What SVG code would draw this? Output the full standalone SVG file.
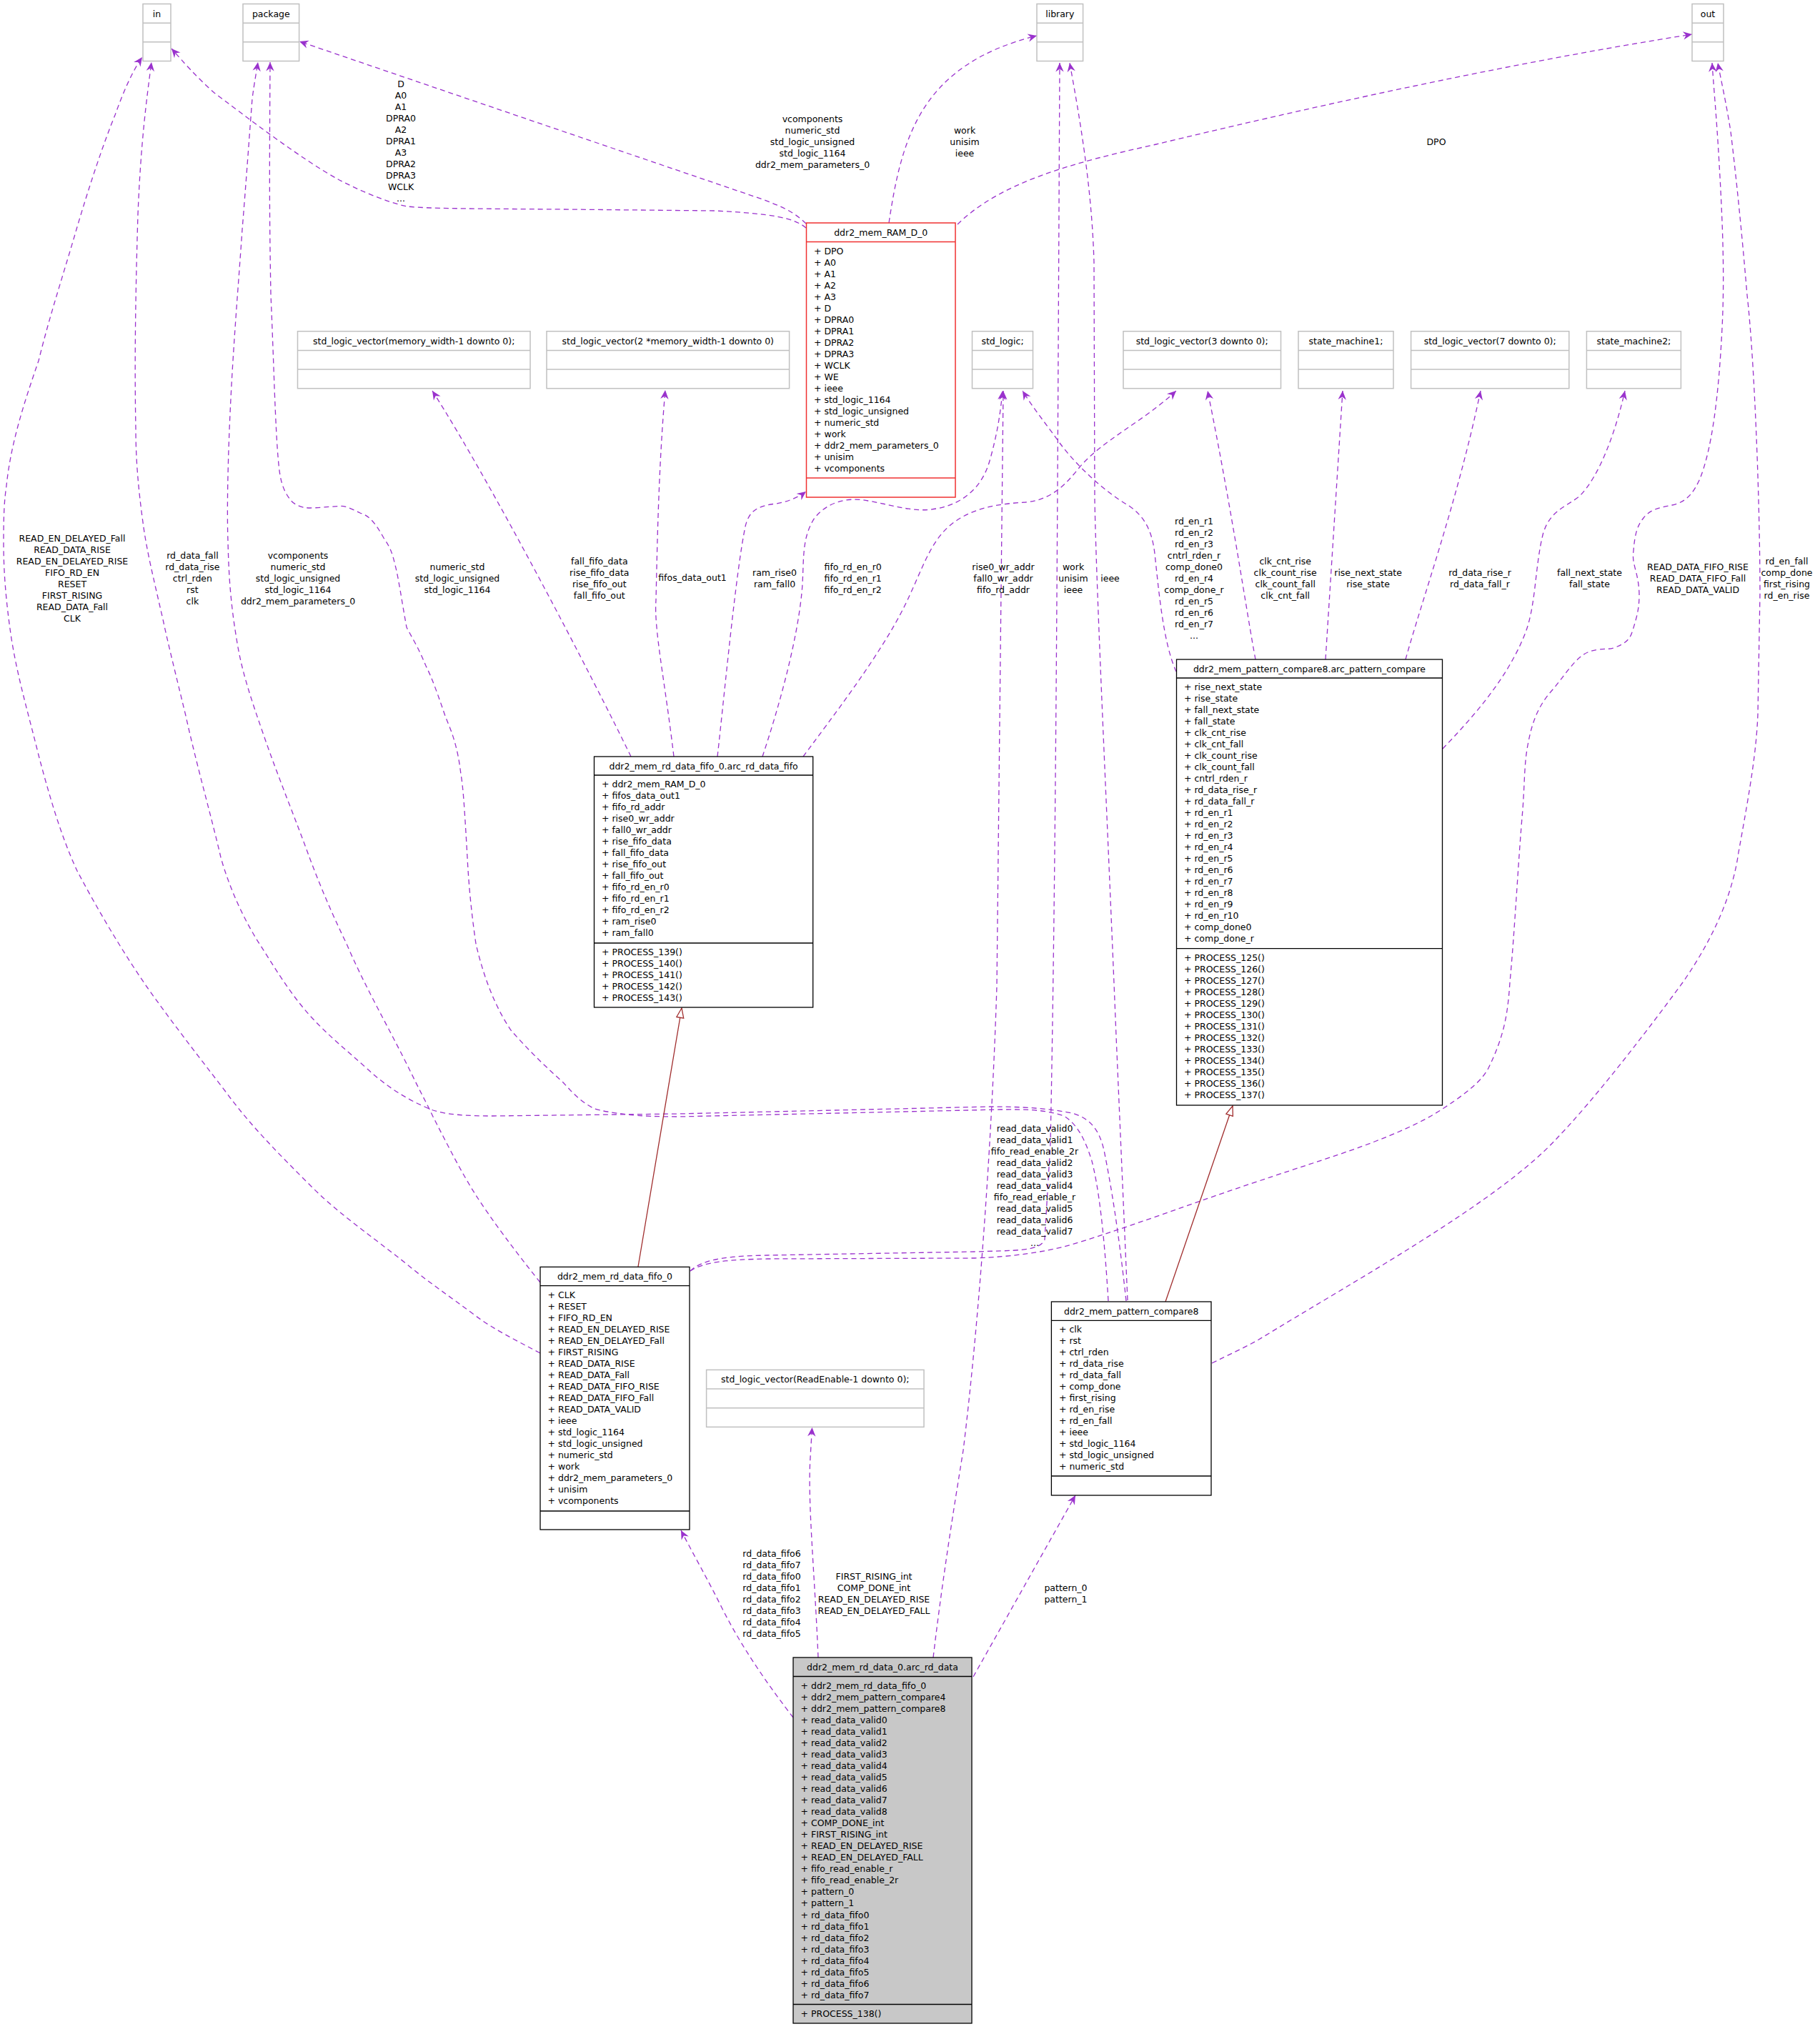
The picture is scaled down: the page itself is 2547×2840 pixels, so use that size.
<svg xmlns="http://www.w3.org/2000/svg" width="2547" height="2840" viewBox="0 0 2547 2840">
<style>
text{font-family:"DejaVu Sans","Liberation Sans",sans-serif;font-size:12.5px;fill:#000}
.c{text-anchor:middle}
.bx{fill:#fff;stroke:#000;stroke-width:1.3}
.gx{fill:#fff;stroke:#c0c0c0;stroke-width:1.5}
.gl{stroke:#c0c0c0;stroke-width:1.5}
.bl{stroke:#000;stroke-width:1.3}
.rx{fill:#fff;stroke:#f03030;stroke-width:1.5}
.rl{stroke:#f03030;stroke-width:1.3}
.e{fill:none;stroke:#9a32cd;stroke-width:1.3;stroke-dasharray:7,5;marker-end:url(#v)}
.i{fill:none;stroke:#a02c2c;stroke-width:1.3;marker-end:url(#t)}
</style>
<defs>
<marker id="v" markerUnits="userSpaceOnUse" markerWidth="14" markerHeight="13" viewBox="0 0 14 13" refX="13" refY="6.5" orient="auto"><path d="M0.5,0.8 L13,6.5 L0.5,12.2 L4.5,6.5 Z" fill="#9a32cd" stroke="none"/></marker>
<marker id="t" markerUnits="userSpaceOnUse" markerWidth="16" markerHeight="13" viewBox="0 0 16 13" refX="15" refY="6.5" orient="auto"><path d="M1.5,1.5 L15,6.5 L1.5,11.5 Z" fill="#fff" stroke="#a02c2c" stroke-width="1.3"/></marker>
</defs>
<rect width="2547" height="2840" fill="#fff"/>

<g id="edges">
<path class="e" d="M1128,319 C1112,305 1080,299 1000,295 L790,293 C650,292 600,292 570,289 C540,283 500,265 475,252 C420,222 340,160 300,130 C275,108 255,85 240,68"/>
<path class="e" d="M1128,313 C1110,295 1090,288 1070,280 L419,58"/>
<path class="e" d="M1244,312 C1262,190 1290,90 1451,50"/>
<path class="e" d="M1340,314 C1400,255 1500,228 1618,202 C1800,158 2100,90 2368,48"/>
<path class="e" d="M1004,1059 C1015,960 1030,800 1043,737 C1048,715 1060,708 1086,705 C1100,703 1116,697 1128,688"/>
<path class="e" d="M1067,1059 C1090,990 1115,900 1122,830 C1126,790 1120,755 1140,725 C1160,700 1190,696 1215,701 C1250,707 1280,718 1310,712 C1350,705 1375,680 1385,645 C1395,610 1400,580 1403,547"/>
<path class="e" d="M1124,1059 C1160,1010 1230,920 1265,850 C1290,800 1300,760 1330,735 C1360,710 1400,705 1435,703 C1470,700 1490,680 1510,655 C1540,618 1600,590 1646,547"/>
<path class="e" d="M883,1059 C830,950 690,680 605,547"/>
<path class="e" d="M943,1059 C930,950 915,880 918,840 C920,750 922,650 931,546"/>
<path class="e" d="M1646,940 C1628,900 1622,830 1616,775 C1612,740 1600,722 1580,708 C1545,688 1505,650 1483,620 C1465,595 1445,570 1431,547"/>
<path class="e" d="M1757,923 C1745,860 1725,720 1690,547"/>
<path class="e" d="M1855,923 L1879,547"/>
<path class="e" d="M1967,923 C1990,840 2040,700 2072,547"/>
<path class="e" d="M2019,1048 C2060,1005 2110,950 2135,885 C2150,845 2148,790 2160,745 C2170,715 2190,710 2210,695 C2240,665 2262,600 2274,547"/>
<path class="e" d="M966,1779 C985,1766 1020,1763 1074,1762 L1364,1761 C1420,1759 1460,1752 1489,1745 C1560,1725 1680,1680 1750,1657 C1830,1630 1880,1615 1926,1597 C1970,1580 2000,1565 2022,1550 C2060,1525 2075,1510 2083,1495 C2105,1450 2110,1420 2113,1375 C2120,1300 2125,1200 2131,1133 C2134,1090 2133,1070 2138,1043 C2145,1005 2155,985 2174,964 C2190,945 2205,920 2222,913 C2240,906 2250,910 2258,907 C2272,902 2280,897 2284,885 C2292,860 2294,850 2294,831 C2293,800 2283,790 2286,771 C2288,745 2292,735 2300,725 C2310,712 2325,710 2340,707 C2360,703 2370,690 2379,670 C2395,630 2405,560 2410,459 C2414,380 2410,300 2406,230 C2402,160 2398,120 2396,88"/>
<path class="e" d="M966,1779 C985,1760 1030,1758 1074,1757 L1364,1752 C1420,1750 1455,1752 1462,1735 L1470,1600 C1478,1200 1480,700 1483,88"/>
<path class="e" d="M1696,1908 C1720,1896 1740,1887 1760,1876 C1900,1790 2100,1680 2180,1592 C2230,1540 2300,1450 2355,1375 C2400,1310 2425,1250 2433,1193 C2450,1100 2458,1050 2460,1000 L2463,831 C2463,700 2455,500 2445,413 C2438,330 2430,250 2422,184 C2415,140 2408,110 2404,88"/>
<path class="e" d="M1578,1820 L1562,1450 C1550,1150 1535,850 1532,700 L1531,367 C1528,260 1510,160 1497,88"/>
<path class="e" d="M1576,1821 C1565,1720 1555,1660 1545,1610 C1538,1580 1525,1565 1500,1558 C1460,1550 1420,1549 1385,1549 L950,1559 L690,1562 C650,1562 625,1560 606,1554 C570,1540 540,1520 515,1497 C485,1470 460,1450 436,1424 C405,1390 385,1355 363,1321 C340,1285 320,1240 309,1200 C295,1140 275,1070 260,1002 C245,940 235,900 228,867 C215,810 205,770 200,731 C193,680 190,640 190,600 C188,500 190,400 193,300 C197,200 205,140 212,87"/>
<path class="e" d="M1551,1821 C1545,1720 1537,1660 1528,1625 C1520,1600 1510,1575 1489,1562 C1460,1552 1430,1553 1400,1553 L950,1563 C920,1563 895,1562 878,1560 C855,1557 840,1555 830,1551 C810,1540 800,1528 788,1515 C760,1490 735,1465 715,1442 C690,1405 675,1360 666,1321 C660,1280 656,1240 654,1200 C650,1130 648,1100 645,1084 C640,1040 630,1020 623,1002 C612,970 605,950 596,932 C585,905 575,890 569,878 C562,840 558,810 553,791 C548,770 545,765 537,753 C527,735 518,722 504,718 C495,714 485,708 477,708.5 C460,709 445,711 434,711 C420,711 410,705 406,699 C395,685 392,670 390,650 C385,600 383,500 379,413 C377,300 377,250 378,87"/>
<path class="e" d="M756,1795 C720,1750 690,1710 666,1673 C645,1640 625,1600 606,1563 C595,1540 588,1528 576,1503 C545,1440 510,1380 485,1321 C465,1280 448,1240 433,1200 C415,1150 390,1090 369,1029 C352,980 338,940 331,894 C322,840 320,800 319,758 C317,700 320,600 326,505 C330,440 335,380 339,321 C344,260 349,190 353,138 C356,115 359,100 361,87"/>
<path class="e" d="M756,1894 C720,1875 690,1860 666,1842 C630,1815 600,1795 570,1770 C520,1730 475,1700 436,1661 C390,1615 350,1575 315,1527 C275,1475 240,1430 206,1382 C170,1330 135,1270 108,1219 C85,1170 68,1110 54,1057 C40,1000 25,950 16,894 C8,840 5,800 5,758 C5,720 6,700 9,680 C15,620 35,560 54,505 C70,440 90,380 107,321 C125,260 145,200 161,161 C172,130 185,100 199,80"/>
<path class="e" d="M1110,2404 C1080,2365 1040,2310 1010,2250 C990,2210 970,2175 953,2142"/>
<path class="e" d="M1145,2320 C1140,2200 1130,2100 1134,2040 L1136.5,1998"/>
<path class="e" d="M1362,2347 L1505,2093"/>
<path class="e" d="M1306,2320 C1320,2200 1340,2080 1348,2030 C1370,1850 1388,1600 1395,1380 L1404,547"/>
<path class="i" d="M893,1773 L954,1411"/>
<path class="i" d="M1631,1822 L1725,1548"/>
</g>

<g id="edge-labels">
<text class="c" x="561" y="122.4"><tspan x="561">D</tspan><tspan x="561" dy="16">A0</tspan><tspan x="561" dy="16">A1</tspan><tspan x="561" dy="16">DPRA0</tspan><tspan x="561" dy="16">A2</tspan><tspan x="561" dy="16">DPRA1</tspan><tspan x="561" dy="16">A3</tspan><tspan x="561" dy="16">DPRA2</tspan><tspan x="561" dy="16">DPRA3</tspan><tspan x="561" dy="16">WCLK</tspan><tspan x="561" dy="16">...</tspan></text>
<text class="c" x="1137" y="170.8"><tspan x="1137">vcomponents</tspan><tspan x="1137" dy="16">numeric_std</tspan><tspan x="1137" dy="16">std_logic_unsigned</tspan><tspan x="1137" dy="16">std_logic_1164</tspan><tspan x="1137" dy="16">ddr2_mem_parameters_0</tspan></text>
<text class="c" x="1350" y="186.9"><tspan x="1350">work</tspan><tspan x="1350" dy="16">unisim</tspan><tspan x="1350" dy="16">ieee</tspan></text>
<text class="c" x="2010" y="202.5">DPO</text>
<text class="c" x="101" y="757.5"><tspan x="101">READ_EN_DELAYED_Fall</tspan><tspan x="101" dy="16">READ_DATA_RISE</tspan><tspan x="101" dy="16">READ_EN_DELAYED_RISE</tspan><tspan x="101" dy="16">FIFO_RD_EN</tspan><tspan x="101" dy="16">RESET</tspan><tspan x="101" dy="16">FIRST_RISING</tspan><tspan x="101" dy="16">READ_DATA_Fall</tspan><tspan x="101" dy="16">CLK</tspan></text>
<text class="c" x="269.4" y="781.9"><tspan x="269.4">rd_data_fall</tspan><tspan x="269.4" dy="16">rd_data_rise</tspan><tspan x="269.4" dy="16">ctrl_rden</tspan><tspan x="269.4" dy="16">rst</tspan><tspan x="269.4" dy="16">clk</tspan></text>
<text class="c" x="417" y="781.8"><tspan x="417">vcomponents</tspan><tspan x="417" dy="16">numeric_std</tspan><tspan x="417" dy="16">std_logic_unsigned</tspan><tspan x="417" dy="16">std_logic_1164</tspan><tspan x="417" dy="16">ddr2_mem_parameters_0</tspan></text>
<text class="c" x="640" y="797.9"><tspan x="640">numeric_std</tspan><tspan x="640" dy="16">std_logic_unsigned</tspan><tspan x="640" dy="16">std_logic_1164</tspan></text>
<text class="c" x="838.8" y="789.5"><tspan x="838.8">fall_fifo_data</tspan><tspan x="838.8" dy="16">rise_fifo_data</tspan><tspan x="838.8" dy="16">rise_fifo_out</tspan><tspan x="838.8" dy="16">fall_fifo_out</tspan></text>
<text class="c" x="969" y="813.3">fifos_data_out1</text>
<text class="c" x="1084" y="805.5"><tspan x="1084">ram_rise0</tspan><tspan x="1084" dy="16">ram_fall0</tspan></text>
<text class="c" x="1193.7" y="797.9"><tspan x="1193.7">fifo_rd_en_r0</tspan><tspan x="1193.7" dy="16">fifo_rd_en_r1</tspan><tspan x="1193.7" dy="16">fifo_rd_en_r2</tspan></text>
<text class="c" x="1404" y="798.1"><tspan x="1404">rise0_wr_addr</tspan><tspan x="1404" dy="16">fall0_wr_addr</tspan><tspan x="1404" dy="16">fifo_rd_addr</tspan></text>
<text class="c" x="1502" y="798.1"><tspan x="1502">work</tspan><tspan x="1502" dy="16">unisim</tspan><tspan x="1502" dy="16">ieee</tspan></text>
<text class="c" x="1553.5" y="813.5">ieee</text>
<text class="c" x="1671" y="733.5"><tspan x="1671">rd_en_r1</tspan><tspan x="1671" dy="16">rd_en_r2</tspan><tspan x="1671" dy="16">rd_en_r3</tspan><tspan x="1671" dy="16">cntrl_rden_r</tspan><tspan x="1671" dy="16">comp_done0</tspan><tspan x="1671" dy="16">rd_en_r4</tspan><tspan x="1671" dy="16">comp_done_r</tspan><tspan x="1671" dy="16">rd_en_r5</tspan><tspan x="1671" dy="16">rd_en_r6</tspan><tspan x="1671" dy="16">rd_en_r7</tspan><tspan x="1671" dy="16">...</tspan></text>
<text class="c" x="1798.7" y="789.8"><tspan x="1798.7">clk_cnt_rise</tspan><tspan x="1798.7" dy="16">clk_count_rise</tspan><tspan x="1798.7" dy="16">clk_count_fall</tspan><tspan x="1798.7" dy="16">clk_cnt_fall</tspan></text>
<text class="c" x="1914.6" y="805.5"><tspan x="1914.6">rise_next_state</tspan><tspan x="1914.6" dy="16">rise_state</tspan></text>
<text class="c" x="2071" y="805.5"><tspan x="2071">rd_data_rise_r</tspan><tspan x="2071" dy="16">rd_data_fall_r</tspan></text>
<text class="c" x="2224.5" y="805.5"><tspan x="2224.5">fall_next_state</tspan><tspan x="2224.5" dy="16">fall_state</tspan></text>
<text class="c" x="2376" y="797.5"><tspan x="2376">READ_DATA_FIFO_RISE</tspan><tspan x="2376" dy="16">READ_DATA_FIFO_Fall</tspan><tspan x="2376" dy="16">READ_DATA_VALID</tspan></text>
<text class="c" x="2500.5" y="789.8"><tspan x="2500.5">rd_en_fall</tspan><tspan x="2500.5" dy="16">comp_done</tspan><tspan x="2500.5" dy="16">first_rising</tspan><tspan x="2500.5" dy="16">rd_en_rise</tspan></text>
<text class="c" x="1448" y="1583.9"><tspan x="1448">read_data_valid0</tspan><tspan x="1448" dy="16">read_data_valid1</tspan><tspan x="1448" dy="16">fifo_read_enable_2r</tspan><tspan x="1448" dy="16">read_data_valid2</tspan><tspan x="1448" dy="16">read_data_valid3</tspan><tspan x="1448" dy="16">read_data_valid4</tspan><tspan x="1448" dy="16">fifo_read_enable_r</tspan><tspan x="1448" dy="16">read_data_valid5</tspan><tspan x="1448" dy="16">read_data_valid6</tspan><tspan x="1448" dy="16">read_data_valid7</tspan><tspan x="1448" dy="16">...</tspan></text>
<text class="c" x="1080" y="2179.1"><tspan x="1080">rd_data_fifo6</tspan><tspan x="1080" dy="16">rd_data_fifo7</tspan><tspan x="1080" dy="16">rd_data_fifo0</tspan><tspan x="1080" dy="16">rd_data_fifo1</tspan><tspan x="1080" dy="16">rd_data_fifo2</tspan><tspan x="1080" dy="16">rd_data_fifo3</tspan><tspan x="1080" dy="16">rd_data_fifo4</tspan><tspan x="1080" dy="16">rd_data_fifo5</tspan></text>
<text class="c" x="1223" y="2210.5"><tspan x="1223">FIRST_RISING_int</tspan><tspan x="1223" dy="16">COMP_DONE_int</tspan><tspan x="1223" dy="16">READ_EN_DELAYED_RISE</tspan><tspan x="1223" dy="16">READ_EN_DELAYED_FALL</tspan></text>
<text class="c" x="1491.5" y="2226.5"><tspan x="1491.5">pattern_0</tspan><tspan x="1491.5" dy="16">pattern_1</tspan></text>
</g>

<g id="in"><rect class="gx" x="200" y="5.5" width="39" height="80"/><line class="gl" x1="200" y1="32.2" x2="239" y2="32.2"/><line class="gl" x1="200" y1="58.8" x2="239" y2="58.8"/><text class="c" x="219.5" y="23.5">in</text></g>
<g id="package"><rect class="gx" x="340" y="5.5" width="78.6" height="80"/><line class="gl" x1="340" y1="32.2" x2="418.6" y2="32.2"/><line class="gl" x1="340" y1="58.8" x2="418.6" y2="58.8"/><text class="c" x="379.3" y="23.5">package</text></g>
<g id="library"><rect class="gx" x="1451" y="5.5" width="64.6" height="80"/><line class="gl" x1="1451" y1="32.2" x2="1515.6" y2="32.2"/><line class="gl" x1="1451" y1="58.8" x2="1515.6" y2="58.8"/><text class="c" x="1483.3" y="23.5">library</text></g>
<g id="out"><rect class="gx" x="2368" y="5.5" width="44" height="80"/><line class="gl" x1="2368" y1="32.2" x2="2412" y2="32.2"/><line class="gl" x1="2368" y1="58.8" x2="2412" y2="58.8"/><text class="c" x="2390" y="23.5">out</text></g>

<g id="slv_memory_width"><rect class="gx" x="416.5" y="463.7" width="325.5" height="80"/><line class="gl" x1="416.5" y1="490.4" x2="742" y2="490.4"/><line class="gl" x1="416.5" y1="517" x2="742" y2="517"/><text class="c" x="579.2" y="481.7">std_logic_vector(memory_width-1 downto 0);</text></g>
<g id="slv_2memory_width"><rect class="gx" x="765" y="463.7" width="339.6" height="80"/><line class="gl" x1="765" y1="490.4" x2="1104.6" y2="490.4"/><line class="gl" x1="765" y1="517" x2="1104.6" y2="517"/><text class="c" x="934.8" y="481.7">std_logic_vector(2 *memory_width-1 downto 0)</text></g>
<g id="std_logic"><rect class="gx" x="1360.5" y="463.7" width="85" height="80"/><line class="gl" x1="1360.5" y1="490.4" x2="1445.5" y2="490.4"/><line class="gl" x1="1360.5" y1="517" x2="1445.5" y2="517"/><text class="c" x="1403" y="481.7">std_logic;</text></g>
<g id="slv_3"><rect class="gx" x="1572" y="463.7" width="220.5" height="80"/><line class="gl" x1="1572" y1="490.4" x2="1792.5" y2="490.4"/><line class="gl" x1="1572" y1="517" x2="1792.5" y2="517"/><text class="c" x="1682.2" y="481.7">std_logic_vector(3 downto 0);</text></g>
<g id="state_machine1"><rect class="gx" x="1817" y="463.7" width="133" height="80"/><line class="gl" x1="1817" y1="490.4" x2="1950" y2="490.4"/><line class="gl" x1="1817" y1="517" x2="1950" y2="517"/><text class="c" x="1883.5" y="481.7">state_machine1;</text></g>
<g id="slv_7"><rect class="gx" x="1974.6" y="463.7" width="221.2" height="80"/><line class="gl" x1="1974.6" y1="490.4" x2="2195.8" y2="490.4"/><line class="gl" x1="1974.6" y1="517" x2="2195.8" y2="517"/><text class="c" x="2085.2" y="481.7">std_logic_vector(7 downto 0);</text></g>
<g id="state_machine2"><rect class="gx" x="2220.4" y="463.7" width="132" height="80"/><line class="gl" x1="2220.4" y1="490.4" x2="2352.4" y2="490.4"/><line class="gl" x1="2220.4" y1="517" x2="2352.4" y2="517"/><text class="c" x="2286.4" y="481.7">state_machine2;</text></g>
<g id="slv_readenable"><rect class="gx" x="988.6" y="1917.4" width="304.4" height="80"/><line class="gl" x1="988.6" y1="1944" x2="1293" y2="1944"/><line class="gl" x1="988.6" y1="1970.7" x2="1293" y2="1970.7"/><text class="c" x="1140.8" y="1935.4">std_logic_vector(ReadEnable-1 downto 0);</text></g>

<g id="ddr2_mem_RAM_D_0"><rect class="rx" x="1128.5" y="312" width="208.5" height="384"/><line class="rl" x1="1128.5" y1="338.5" x2="1337" y2="338.5"/><line class="rl" x1="1128.5" y1="669" x2="1337" y2="669"/><text class="c" x="1232.7" y="330">ddr2_mem_RAM_D_0</text>
<text x="1139" y="355.5"><tspan x="1139">+ DPO</tspan><tspan x="1139" dy="16">+ A0</tspan><tspan x="1139" dy="16">+ A1</tspan><tspan x="1139" dy="16">+ A2</tspan><tspan x="1139" dy="16">+ A3</tspan><tspan x="1139" dy="16">+ D</tspan><tspan x="1139" dy="16">+ DPRA0</tspan><tspan x="1139" dy="16">+ DPRA1</tspan><tspan x="1139" dy="16">+ DPRA2</tspan><tspan x="1139" dy="16">+ DPRA3</tspan><tspan x="1139" dy="16">+ WCLK</tspan><tspan x="1139" dy="16">+ WE</tspan><tspan x="1139" dy="16">+ ieee</tspan><tspan x="1139" dy="16">+ std_logic_1164</tspan><tspan x="1139" dy="16">+ std_logic_unsigned</tspan><tspan x="1139" dy="16">+ numeric_std</tspan><tspan x="1139" dy="16">+ work</tspan><tspan x="1139" dy="16">+ ddr2_mem_parameters_0</tspan><tspan x="1139" dy="16">+ unisim</tspan><tspan x="1139" dy="16">+ vcomponents</tspan></text></g>

<g id="arc_rd_data_fifo"><rect class="bx" x="831.5" y="1059" width="306.2" height="351"/><line class="bl" x1="831.5" y1="1085" x2="1137.7" y2="1085"/><line class="bl" x1="831.5" y1="1320" x2="1137.7" y2="1320"/><text class="c" x="984.6" y="1077">ddr2_mem_rd_data_fifo_0.arc_rd_data_fifo</text>
<text x="842" y="1102"><tspan x="842">+ ddr2_mem_RAM_D_0</tspan><tspan x="842" dy="16">+ fifos_data_out1</tspan><tspan x="842" dy="16">+ fifo_rd_addr</tspan><tspan x="842" dy="16">+ rise0_wr_addr</tspan><tspan x="842" dy="16">+ fall0_wr_addr</tspan><tspan x="842" dy="16">+ rise_fifo_data</tspan><tspan x="842" dy="16">+ fall_fifo_data</tspan><tspan x="842" dy="16">+ rise_fifo_out</tspan><tspan x="842" dy="16">+ fall_fifo_out</tspan><tspan x="842" dy="16">+ fifo_rd_en_r0</tspan><tspan x="842" dy="16">+ fifo_rd_en_r1</tspan><tspan x="842" dy="16">+ fifo_rd_en_r2</tspan><tspan x="842" dy="16">+ ram_rise0</tspan><tspan x="842" dy="16">+ ram_fall0</tspan></text>
<text x="842" y="1337"><tspan x="842">+ PROCESS_139()</tspan><tspan x="842" dy="16">+ PROCESS_140()</tspan><tspan x="842" dy="16">+ PROCESS_141()</tspan><tspan x="842" dy="16">+ PROCESS_142()</tspan><tspan x="842" dy="16">+ PROCESS_143()</tspan></text></g>

<g id="arc_pattern_compare"><rect class="bx" x="1646.5" y="923" width="372" height="624"/><line class="bl" x1="1646.5" y1="949" x2="2018.5" y2="949"/><line class="bl" x1="1646.5" y1="1327.6" x2="2018.5" y2="1327.6"/><text class="c" x="1832.5" y="941">ddr2_mem_pattern_compare8.arc_pattern_compare</text>
<text x="1657" y="966"><tspan x="1657">+ rise_next_state</tspan><tspan x="1657" dy="16">+ rise_state</tspan><tspan x="1657" dy="16">+ fall_next_state</tspan><tspan x="1657" dy="16">+ fall_state</tspan><tspan x="1657" dy="16">+ clk_cnt_rise</tspan><tspan x="1657" dy="16">+ clk_cnt_fall</tspan><tspan x="1657" dy="16">+ clk_count_rise</tspan><tspan x="1657" dy="16">+ clk_count_fall</tspan><tspan x="1657" dy="16">+ cntrl_rden_r</tspan><tspan x="1657" dy="16">+ rd_data_rise_r</tspan><tspan x="1657" dy="16">+ rd_data_fall_r</tspan><tspan x="1657" dy="16">+ rd_en_r1</tspan><tspan x="1657" dy="16">+ rd_en_r2</tspan><tspan x="1657" dy="16">+ rd_en_r3</tspan><tspan x="1657" dy="16">+ rd_en_r4</tspan><tspan x="1657" dy="16">+ rd_en_r5</tspan><tspan x="1657" dy="16">+ rd_en_r6</tspan><tspan x="1657" dy="16">+ rd_en_r7</tspan><tspan x="1657" dy="16">+ rd_en_r8</tspan><tspan x="1657" dy="16">+ rd_en_r9</tspan><tspan x="1657" dy="16">+ rd_en_r10</tspan><tspan x="1657" dy="16">+ comp_done0</tspan><tspan x="1657" dy="16">+ comp_done_r</tspan></text>
<text x="1657" y="1344.6"><tspan x="1657">+ PROCESS_125()</tspan><tspan x="1657" dy="16">+ PROCESS_126()</tspan><tspan x="1657" dy="16">+ PROCESS_127()</tspan><tspan x="1657" dy="16">+ PROCESS_128()</tspan><tspan x="1657" dy="16">+ PROCESS_129()</tspan><tspan x="1657" dy="16">+ PROCESS_130()</tspan><tspan x="1657" dy="16">+ PROCESS_131()</tspan><tspan x="1657" dy="16">+ PROCESS_132()</tspan><tspan x="1657" dy="16">+ PROCESS_133()</tspan><tspan x="1657" dy="16">+ PROCESS_134()</tspan><tspan x="1657" dy="16">+ PROCESS_135()</tspan><tspan x="1657" dy="16">+ PROCESS_136()</tspan><tspan x="1657" dy="16">+ PROCESS_137()</tspan></text></g>

<g id="ddr2_mem_rd_data_fifo_0"><rect class="bx" x="756" y="1773.4" width="209" height="367.6"/><line class="bl" x1="756" y1="1799.6" x2="965" y2="1799.6"/><line class="bl" x1="756" y1="2115" x2="965" y2="2115"/><text class="c" x="860.5" y="1791.4">ddr2_mem_rd_data_fifo_0</text>
<text x="766.5" y="1816.6"><tspan x="766.5">+ CLK</tspan><tspan x="766.5" dy="16">+ RESET</tspan><tspan x="766.5" dy="16">+ FIFO_RD_EN</tspan><tspan x="766.5" dy="16">+ READ_EN_DELAYED_RISE</tspan><tspan x="766.5" dy="16">+ READ_EN_DELAYED_Fall</tspan><tspan x="766.5" dy="16">+ FIRST_RISING</tspan><tspan x="766.5" dy="16">+ READ_DATA_RISE</tspan><tspan x="766.5" dy="16">+ READ_DATA_Fall</tspan><tspan x="766.5" dy="16">+ READ_DATA_FIFO_RISE</tspan><tspan x="766.5" dy="16">+ READ_DATA_FIFO_Fall</tspan><tspan x="766.5" dy="16">+ READ_DATA_VALID</tspan><tspan x="766.5" dy="16">+ ieee</tspan><tspan x="766.5" dy="16">+ std_logic_1164</tspan><tspan x="766.5" dy="16">+ std_logic_unsigned</tspan><tspan x="766.5" dy="16">+ numeric_std</tspan><tspan x="766.5" dy="16">+ work</tspan><tspan x="766.5" dy="16">+ ddr2_mem_parameters_0</tspan><tspan x="766.5" dy="16">+ unisim</tspan><tspan x="766.5" dy="16">+ vcomponents</tspan></text></g>

<g id="ddr2_mem_pattern_compare8"><rect class="bx" x="1471.4" y="1822" width="223.6" height="271"/><line class="bl" x1="1471.4" y1="1848.4" x2="1695" y2="1848.4"/><line class="bl" x1="1471.4" y1="2066" x2="1695" y2="2066"/><text class="c" x="1583.2" y="1840">ddr2_mem_pattern_compare8</text>
<text x="1482" y="1865.4"><tspan x="1482">+ clk</tspan><tspan x="1482" dy="16">+ rst</tspan><tspan x="1482" dy="16">+ ctrl_rden</tspan><tspan x="1482" dy="16">+ rd_data_rise</tspan><tspan x="1482" dy="16">+ rd_data_fall</tspan><tspan x="1482" dy="16">+ comp_done</tspan><tspan x="1482" dy="16">+ first_rising</tspan><tspan x="1482" dy="16">+ rd_en_rise</tspan><tspan x="1482" dy="16">+ rd_en_fall</tspan><tspan x="1482" dy="16">+ ieee</tspan><tspan x="1482" dy="16">+ std_logic_1164</tspan><tspan x="1482" dy="16">+ std_logic_unsigned</tspan><tspan x="1482" dy="16">+ numeric_std</tspan></text></g>

<g id="arc_rd_data"><rect x="1110" y="2320" width="250" height="512" fill="#c8c8c8" stroke="#000" stroke-width="1.3"/><line class="bl" x1="1110" y1="2346.5" x2="1360" y2="2346.5"/><line class="bl" x1="1110" y1="2805.5" x2="1360" y2="2805.5"/><text class="c" x="1235" y="2338">ddr2_mem_rd_data_0.arc_rd_data</text>
<text x="1120.5" y="2363.5"><tspan x="1120.5">+ ddr2_mem_rd_data_fifo_0</tspan><tspan x="1120.5" dy="16.05">+ ddr2_mem_pattern_compare4</tspan><tspan x="1120.5" dy="16.05">+ ddr2_mem_pattern_compare8</tspan><tspan x="1120.5" dy="16.05">+ read_data_valid0</tspan><tspan x="1120.5" dy="16.05">+ read_data_valid1</tspan><tspan x="1120.5" dy="16.05">+ read_data_valid2</tspan><tspan x="1120.5" dy="16.05">+ read_data_valid3</tspan><tspan x="1120.5" dy="16.05">+ read_data_valid4</tspan><tspan x="1120.5" dy="16.05">+ read_data_valid5</tspan><tspan x="1120.5" dy="16.05">+ read_data_valid6</tspan><tspan x="1120.5" dy="16.05">+ read_data_valid7</tspan><tspan x="1120.5" dy="16.05">+ read_data_valid8</tspan><tspan x="1120.5" dy="16.05">+ COMP_DONE_int</tspan><tspan x="1120.5" dy="16.05">+ FIRST_RISING_int</tspan><tspan x="1120.5" dy="16.05">+ READ_EN_DELAYED_RISE</tspan><tspan x="1120.5" dy="16.05">+ READ_EN_DELAYED_FALL</tspan><tspan x="1120.5" dy="16.05">+ fifo_read_enable_r</tspan><tspan x="1120.5" dy="16.05">+ fifo_read_enable_2r</tspan><tspan x="1120.5" dy="16.05">+ pattern_0</tspan><tspan x="1120.5" dy="16.05">+ pattern_1</tspan><tspan x="1120.5" dy="16.05">+ rd_data_fifo0</tspan><tspan x="1120.5" dy="16.05">+ rd_data_fifo1</tspan><tspan x="1120.5" dy="16.05">+ rd_data_fifo2</tspan><tspan x="1120.5" dy="16.05">+ rd_data_fifo3</tspan><tspan x="1120.5" dy="16.05">+ rd_data_fifo4</tspan><tspan x="1120.5" dy="16.05">+ rd_data_fifo5</tspan><tspan x="1120.5" dy="16.05">+ rd_data_fifo6</tspan><tspan x="1120.5" dy="16.05">+ rd_data_fifo7</tspan></text>
<text x="1120.5" y="2822.5">+ PROCESS_138()</text></g>
</svg>
